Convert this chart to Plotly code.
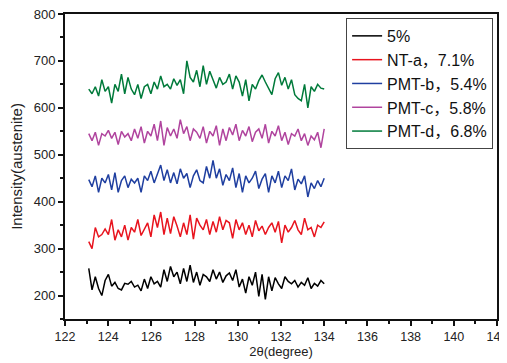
import numpy as np
import plotly.graph_objects as go

names = ["5%", "NT-a，7.1%", "PMT-b，5.4%", "PMT-c，5.8%", "PMT-d，6.8%"]
colors = ["#000000", "#e8141e", "#1f3fa0", "#b0449e", "#007a3a"]

black = [258, 212, 240, 215, 200, 232, 245, 220, 228, 215, 212, 226, 224, 230, 218, 222, 210, 235, 215, 240,
         225, 230, 218, 255, 230, 262, 240, 250, 225, 258, 230, 265, 228, 250, 222, 245, 240, 230, 255, 235,
         250, 228, 242, 248, 232, 255, 218, 235, 205, 240, 222, 250, 198, 245, 192, 240, 210, 238, 225, 215,
         240, 230, 225, 232, 218, 228, 222, 238, 215, 226, 220, 232, 225]
red = [315, 300, 345, 325, 330, 342, 330, 362, 318, 340, 325, 350, 318, 345, 335, 362, 328, 340, 355, 325,
       372, 345, 378, 330, 365, 332, 368, 348, 325, 355, 330, 372, 320, 365, 350, 340, 362, 330, 358, 335,
       368, 340, 360, 355, 322, 362, 340, 355, 330, 350, 325, 360, 338, 348, 330, 345, 355, 335, 358, 312,
       350, 335, 345, 360, 340, 330, 365, 340, 345, 325, 350, 345, 357]
blue = [447, 432, 455, 420, 450, 440, 458, 425, 462, 420, 445, 455, 430, 448, 440, 450, 420, 455, 445, 465,
        440, 458, 478, 445, 468, 440, 462, 438, 470, 450, 460, 430, 455, 468, 445, 440, 475, 450, 488, 450,
        470, 435, 458, 445, 472, 430, 460, 420, 455, 440, 450, 465, 428, 448, 460, 420, 455, 440, 465, 430,
        455, 445, 470, 425, 448, 438, 455, 410, 440, 428, 445, 432, 450]
magenta = [545, 530, 548, 520, 545, 540, 552, 535, 548, 522, 550, 538, 545, 530, 555, 535, 560, 525, 550, 540,
           565, 530, 572, 520, 558, 540, 555, 535, 575, 545, 560, 530, 555, 548, 535, 560, 525, 550, 540, 562,
           520, 555, 530, 558, 542, 565, 530, 552, 540, 560, 528, 548, 555, 535, 565, 525, 550, 540, 562, 530,
           548, 522, 545, 540, 555, 530, 545, 520, 540, 532, 548, 515, 555]
green = [640, 630, 645, 625, 660, 635, 645, 610, 650, 635, 672, 630, 665, 640, 628, 650, 620, 645, 650, 630,
         655, 640, 668, 645, 650, 640, 662, 648, 660, 630, 700, 665, 655, 680, 645, 690, 650, 678, 660, 642,
         665, 650, 655, 672, 640, 668, 655, 625, 660, 615, 650, 640, 658, 670, 655, 640, 628, 662, 675, 648,
         665, 640, 660, 628, 620, 615, 650, 600, 645, 635, 650, 642, 640]

series = [black, red, blue, magenta, green]
x_start, x_end = 123.1, 134.0

fig = go.Figure()
for nm, col, ys in zip(names, colors, series):
    xs = np.linspace(x_start, x_end, len(ys))
    fig.add_trace(go.Scatter(x=xs, y=ys, mode="lines", name=nm,
                             line=dict(color=col, width=1.5)))

axis_common = dict(showgrid=False, zeroline=False, showline=True, linecolor="#111",
                   linewidth=2, mirror=True, ticks="outside", ticklen=5, tickwidth=1.5,
                   tickcolor="#111", automargin=False, ticklabeloverflow="allow")

# page body has an 8px margin, so the figure is sized/placed to compensate
fig.update_layout(
    width=499, height=355,
    margin=dict(l=57, r=10, t=6, b=44),
    paper_bgcolor="white", plot_bgcolor="white",
    font=dict(family="Arial, Liberation Sans", color="#222"),
    xaxis=dict(range=[122, 142], dtick=2, tick0=122,
               minor=dict(ticks="outside", ticklen=3, dtick=1, tickcolor="#111"),
               tickfont=dict(family="Arial, Liberation Sans", size=12.5, color="#222"),
               title=dict(text="2θ(degree)", font=dict(size=13), standoff=2),
               **axis_common),
    yaxis=dict(range=[150, 800], dtick=100, tick0=200,
               minor=dict(ticks="outside", ticklen=3, dtick=50, tickcolor="#111"),
               tickfont=dict(family="Arial, Liberation Sans", size=13, color="#222"),
               title=dict(text="Intensity(austenite)", font=dict(size=15), standoff=13),
               **axis_common),
    legend=dict(x=0.991, xanchor="right", y=0.987, yanchor="top",
                bordercolor="#444", borderwidth=1, bgcolor="white",
                font=dict(family="Arial, Liberation Sans, Noto Sans CJK SC", size=16, color="#111"),
                tracegroupgap=0, itemwidth=30),
    showlegend=True,
)

fig.write_html("out.html")
